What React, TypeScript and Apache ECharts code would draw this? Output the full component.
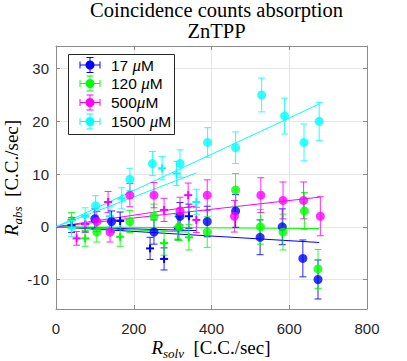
import React, { useEffect, useRef } from "react";
import * as echarts from "echarts";

// ---- data ----
const SERIES_NAMES = ["17", "120", "500", "1500"];
const COLORS = ["#0000ff", "#00ff00", "#ff00ff", "#00ffff"];

// filled-circle measurements: [R_solv, R_abs, error]
const circ17: number[][] = [[100, 1.5, 1.9], [143, 1, 2.0], [252, -1, 2.3], [319, 2, 2.6], [389, 1, 2.9], [462, 3, 3.1], [525, -2, 3.3], [582, 0, 3.4], [635, -6, 3.5], [674, -10, 3.7]];
const circ120: number[][] = [[105, -1, 1.9], [190, 1, 2.1], [252, 2, 2.3], [317, 0, 2.6], [389, -1, 2.9], [462, 7, 3.1], [526, 0, 3.3], [584, -1, 3.4], [639, 3, 3.5], [674, -8, 3.7]];
const circ500: number[][] = [[105, 1, 1.9], [139, -1, 1.9], [190, 6, 2.2], [252, 6, 2.4], [319, 3, 2.6], [389, 6, 2.9], [459, 2, 3.0], [527, 6, 3.3], [584, 5, 3.5], [637, 5, 3.5], [680, 2, 3.7]];
const circ1500: number[][] = [[102, 4, 1.9], [190, 9, 2.1], [248, 12, 2.3], [319, 12, 2.6], [390, 16, 2.8], [462, 15, 3.0], [529, 25, 3.2], [588, 21, 3.4], [638, 16, 3.5], [677, 20, 3.6]];

// plus-marker measurements: [R_solv, R_abs, error]
const plus17: number[][] = [[40, 0.3, 1.4], [75, 0.5, 1.5], [165, 1.1, 1.7], [242, -4.1, 2.1], [278, -6.1, 2.1], [314, -0.3, 2.2], [342, 2, 2.3]];
const plus120: number[][] = [[40, 1.3, 1.4], [75, -2.2, 1.5], [165, -1.9, 1.8], [278, -3.1, 2.3], [313, 0, 2.3], [342, -2, 2.4]];
const plus500: number[][] = [[53, -2.2, 1.3], [75, 0.5, 1.5], [134, 4.7, 2.0], [278, 3.2, 2.2], [340, 6, 2.3], [361, 1.3, 2.4]];
const plus1500: number[][] = [[40, -0.3, 1.5], [75, 1.9, 1.7], [139, 2, 1.9], [169, 5.4, 2.0], [273, 11.1, 2.2], [310, 10.1, 2.3], [361, 4.7, 2.4]];

// linear fits through origin: slope and end of range
const circSlopes = [-0.0044, -0.0005, 0.0083, 0.0344];
const circFitEnd = [677, 677, 680, 677];
const plusSlopes = [-0.002, -0.003, 0.011, 0.0283];
const plusFitEnd = [361, 342, 361, 361];

const xTicks = [0, 200, 400, 600, 800];
const yTicks = [-10, 0, 10, 20, 30];

const CIRC = [circ17, circ120, circ500, circ1500];
const PLUS = [plus17, plus120, plus500, plus1500];

function errRender(color: string, plus: boolean) {
  return (params: any, api: any) => {
    const x = api.value(0);
    const y = api.value(1);
    const e = api.value(2);
    const top = api.coord([x, y + e]);
    const bot = api.coord([x, y - e]);
    const c = api.coord([x, y]);
    const cap = 3.5;
    const style = { stroke: color, lineWidth: 1, opacity: 0.85 };
    const children: any[] = [
      { type: "line", shape: { x1: top[0], y1: top[1], x2: bot[0], y2: bot[1] }, style },
      { type: "line", shape: { x1: top[0] - cap, y1: top[1], x2: top[0] + cap, y2: top[1] }, style },
      { type: "line", shape: { x1: bot[0] - cap, y1: bot[1], x2: bot[0] + cap, y2: bot[1] }, style },
    ];
    if (plus) {
      const s = 4;
      const ps = { stroke: color, lineWidth: 2 };
      children.push({ type: "line", shape: { x1: c[0] - s, y1: c[1], x2: c[0] + s, y2: c[1] }, style: ps });
      children.push({ type: "line", shape: { x1: c[0], y1: c[1] - s, x2: c[0], y2: c[1] + s }, style: ps });
    }
    return { type: "group", children };
  };
}

export default function App() {
  const ref = useRef<HTMLDivElement>(null);
  useEffect(() => {
    if (!ref.current) return;
    const chart = echarts.init(ref.current, null, { renderer: "svg" });

    const series: any[] = [];
    for (let i = 0; i < 4; i++) {
      series.push({
        type: "line",
        data: [[0, 0], [plusFitEnd[i], plusFitEnd[i] * plusSlopes[i]]],
        symbol: "none",
        lineStyle: { color: COLORS[i], width: 1 },
        silent: true,
        z: 2,
      });
      series.push({
        type: "line",
        data: [[0, 0], [circFitEnd[i], circFitEnd[i] * circSlopes[i]]],
        symbol: "none",
        lineStyle: { color: COLORS[i], width: 1 },
        silent: true,
        z: 2,
      });
    }
    for (let i = 0; i < 4; i++) {
      series.push({
        type: "custom",
        renderItem: errRender(COLORS[i], true),
        data: PLUS[i],
        encode: { x: 0, y: 1 },
        z: 3,
      });
    }
    for (let i = 0; i < 4; i++) {
      series.push({
        type: "custom",
        renderItem: errRender(COLORS[i], false),
        data: CIRC[i],
        encode: { x: 0, y: 1 },
        z: 4,
      });
      series.push({
        type: "scatter",
        data: CIRC[i].map((d) => [d[0], d[1]]),
        symbol: "circle",
        symbolSize: 9,
        itemStyle: { color: COLORS[i] },
        z: 5,
      });
    }

    const axisLineStyle = { color: "#8c8c8c", width: 1 };
    const labelStyle = { fontFamily: "Liberation Sans, Arial, sans-serif", fontSize: 15, color: "#262626" };

    const LZ = 100;
    const legendChildren: any[] = [
      { type: "rect", z: LZ, shape: { x: 68.5, y: 54.5, width: 106, height: 80 }, style: { fill: "#fff", stroke: "#262626", lineWidth: 1 } },
    ];
    const ly = [65, 83.5, 102.5, 121.5];
    for (let i = 0; i < 4; i++) {
      const y = ly[i];
      const st = { stroke: COLORS[i], lineWidth: 1 };
      legendChildren.push(
        { type: "line", z: LZ + 1, shape: { x1: 80, y1: y, x2: 100, y2: y }, style: st },
        { type: "line", z: LZ + 1, shape: { x1: 80, y1: y - 3.5, x2: 80, y2: y + 3.5 }, style: st },
        { type: "line", z: LZ + 1, shape: { x1: 100, y1: y - 3.5, x2: 100, y2: y + 3.5 }, style: st },
        { type: "line", z: LZ + 1, shape: { x1: 90, y1: y - 7.5, x2: 90, y2: y + 7.5 }, style: st },
        { type: "line", z: LZ + 1, shape: { x1: 86.5, y1: y - 7.5, x2: 93.5, y2: y - 7.5 }, style: st },
        { type: "line", z: LZ + 1, shape: { x1: 86.5, y1: y + 7.5, x2: 93.5, y2: y + 7.5 }, style: st },
        { type: "circle", z: LZ + 2, shape: { cx: 90, cy: y, r: 4.5 }, style: { fill: COLORS[i] } },
        {
          type: "text",
          z: LZ + 2,
          x: 111,
          y: y,
          style: {
            text: "{n|" + SERIES_NAMES[i] + (i === 2 ? "" : " ") + "}{m|μ}{n|M}",
            verticalAlign: "middle",
            rich: {
              n: { fontFamily: "Liberation Sans, Arial, sans-serif", fontSize: 15.5, fill: "#000" },
              m: { fontFamily: "Liberation Serif, serif", fontStyle: "italic", fontSize: 17, fill: "#000" },
            },
          },
        }
      );
    }

    const serif = "Liberation Serif, DejaVu Serif, serif";
    const richAxis = {
      r: { fontFamily: serif, fontStyle: "italic", fontSize: 19, lineHeight: 22, verticalAlign: "top", fill: "#000" },
      s: { fontFamily: serif, fontStyle: "italic", fontSize: 13, lineHeight: 12, verticalAlign: "bottom", fill: "#000" },
      n: { fontFamily: serif, fontSize: 19, lineHeight: 22, verticalAlign: "top", fill: "#000" },
    };

    chart.setOption({
      animation: false,
      backgroundColor: "#fff",
      title: {
        text: "Coincidence counts absorption\nZnTPP",
        left: 211.5,
        top: -6,
        textAlign: "center",
        textStyle: { fontFamily: serif, fontWeight: "normal", fontSize: 20.5, lineHeight: 21.5, color: "#000" },
      },
      grid: { left: 56, right: 40, top: 46, bottom: 52, containLabel: false },
      xAxis: [
        {
          type: "value", min: 0, max: 800, interval: 200, position: "bottom",
          axisLine: { show: true, lineStyle: axisLineStyle, onZero: false },
          axisTick: { show: true, inside: true, length: 4, lineStyle: axisLineStyle },
          splitLine: { show: true, lineStyle: { color: "#e6e6e6", width: 1 } },
          axisLabel: { ...labelStyle, margin: 12 },
        },
        {
          type: "value", min: 0, max: 800, interval: 200, position: "top",
          axisLine: { show: true, lineStyle: axisLineStyle, onZero: false },
          axisTick: { show: true, inside: true, length: 4, lineStyle: axisLineStyle },
          splitLine: { show: false },
          axisLabel: { show: false },
        },
      ],
      yAxis: [
        {
          type: "value", min: -15.6, max: 34.3, position: "left",
          axisLine: { show: true, lineStyle: axisLineStyle, onZero: false },
          axisTick: { show: true, inside: true, length: 4, lineStyle: axisLineStyle, customValues: yTicks },
          splitLine: { show: true, lineStyle: { color: "#e6e6e6", width: 1 } },
          axisLabel: { ...labelStyle, margin: 7, customValues: yTicks },
        },
        {
          type: "value", min: -15.6, max: 34.3, position: "right",
          axisLine: { show: true, lineStyle: axisLineStyle, onZero: false },
          axisTick: { show: true, inside: true, length: 4, lineStyle: axisLineStyle, customValues: yTicks },
          splitLine: { show: false },
          axisLabel: { show: false, customValues: yTicks },
        },
      ],
      graphic: [
        {
          type: "group",
          z: LZ,
          children: legendChildren,
        },
        {
          type: "text",
          x: 211,
          y: 349,
          style: {
            text: "{r|R}{s|solv}{n|  [C.C./sec]}",
            align: "center",
            verticalAlign: "middle",
            rich: richAxis,
          },
        },
        {
          type: "text",
          x: 13,
          y: 178,
          rotation: Math.PI / 2,
          style: {
            text: "{r|R}{s|abs}{n|  [C.C./sec]}",
            align: "center",
            verticalAlign: "middle",
            rich: richAxis,
          },
        },
      ],
      series,
    });
    return () => chart.dispose();
  }, []);
  return <div ref={ref} style={{ position: "fixed", left: 0, top: 0, width: 407, height: 361 }} />;
}
